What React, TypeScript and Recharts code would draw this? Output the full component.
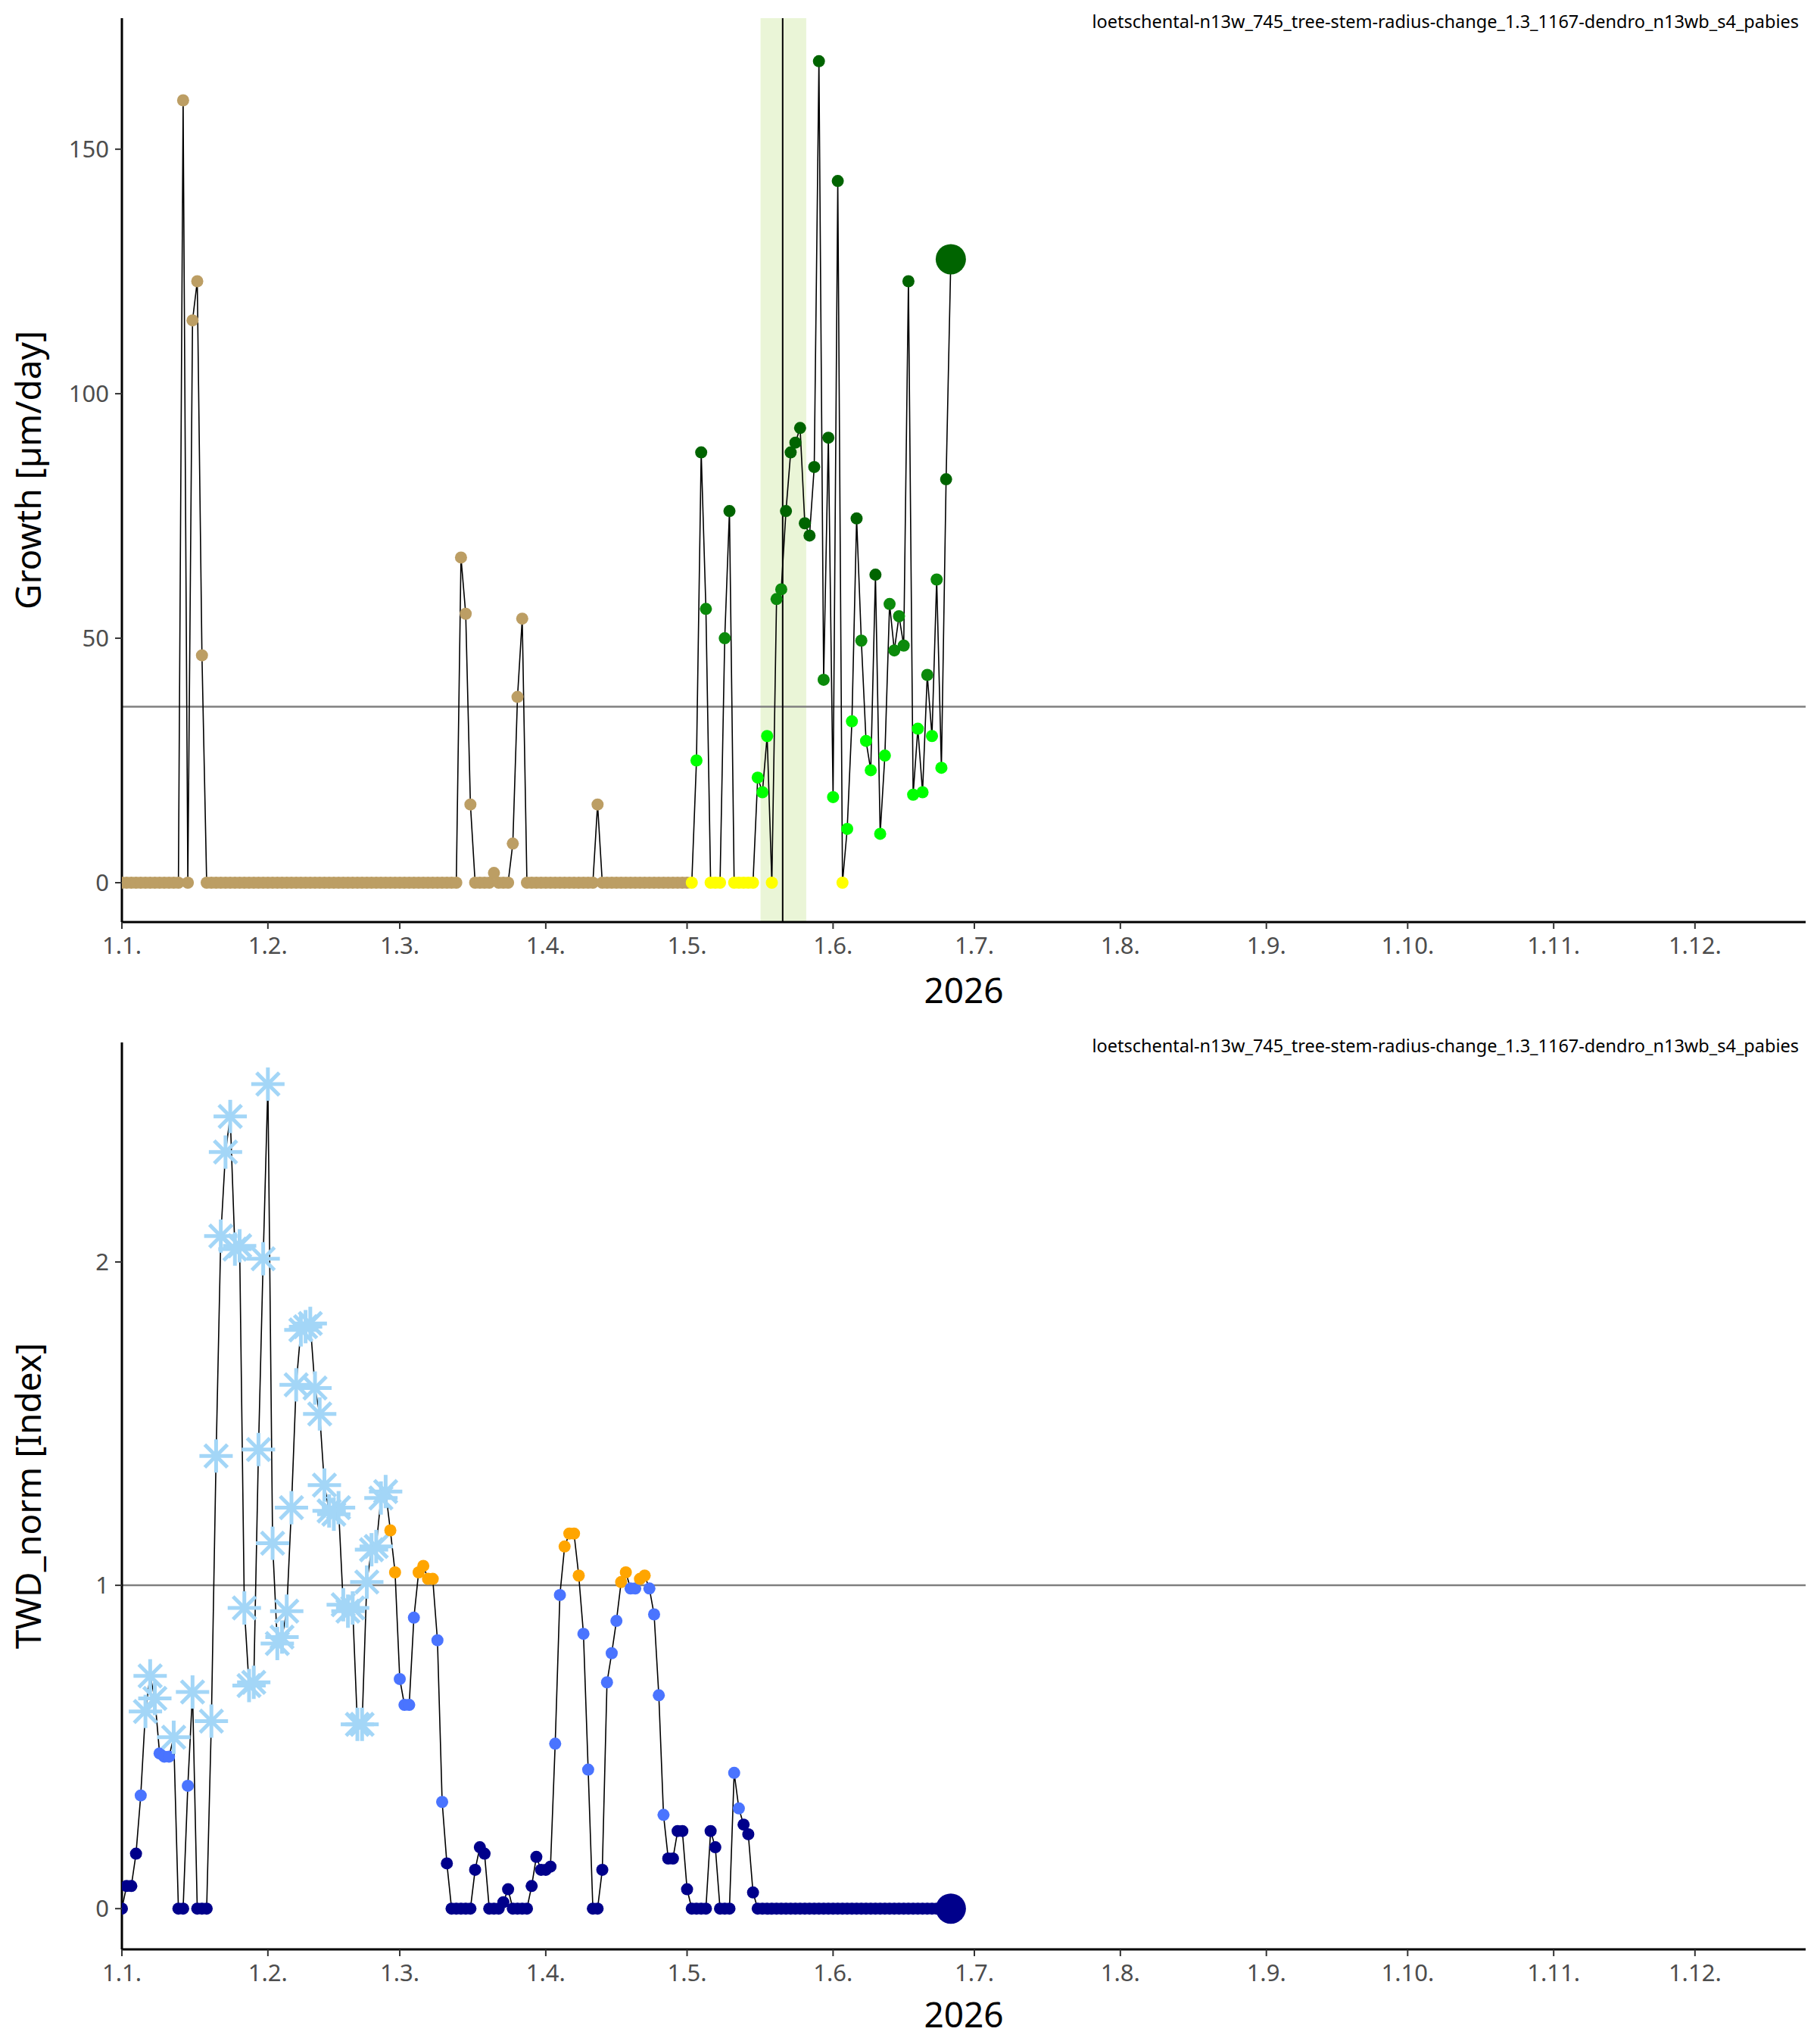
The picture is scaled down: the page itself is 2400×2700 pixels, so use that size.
import React from 'react';
import { ComposedChart, Line, XAxis, YAxis, ReferenceLine, ReferenceArea } from 'recharts';

const monthTicks = [0, 31, 59, 90, 120, 151, 181, 212, 243, 273, 304, 334];
const monthLabels = ['1.1.', '1.2.', '1.3.', '1.4.', '1.5.', '1.6.', '1.7.', '1.8.', '1.9.', '1.10.', '1.11.', '1.12.'];

// growth per day index (day 0 = 1 Jan 2026)
const growthSpikes: [number, number][] = [
  [13, 160], [15, 115], [16, 123], [17, 46.5],
  [72, 66.5], [73, 55], [74, 16], [79, 2], [83, 8], [84, 38], [85, 54], [101, 16],
];
const growthLate = [
  0, 25, 88, 56, 0, 0, 0, 50, 76, 0, 0, 0, 0, 0, 21.5, 18.5, 30, 0, 58, 60,
  76, 88, 90, 93, 73.5, 71, 85, 168, 41.5, 91, 17.5, 143.5, 0, 11, 33, 74.5, 49.5, 29, 23, 63,
  10, 26, 57, 47.5, 54.5, 48.5, 123, 18, 31.5, 18.5, 42.5, 30, 62, 23.5, 82.5, 127.5,
];
const lateStart = 121;

const twdValues = [
  0, 0.07, 0.07, 0.17, 0.35, 0.61, 0.72, 0.65, 0.48, 0.47, 0.47, 0.53, 0, 0, 0.38, 0.67, 0, 0, 0, 0.58,
  1.40, 2.08, 2.34, 2.45, 2.04, 2.05, 0.93, 0.69, 0.70, 1.42, 2.01, 2.55, 1.13, 0.82, 0.84, 0.92, 1.24, 1.62, 1.79, 1.80,
  1.81, 1.61, 1.53, 1.31, 1.23, 1.22, 1.24, 0.94, 0.92, 0.93, 0.57, 0.57, 1.01, 1.11, 1.12, 1.27, 1.29, 1.17, 1.04, 0.71,
  0.63, 0.63, 0.90, 1.04, 1.06, 1.02, 1.02, 0.83, 0.33, 0.14, 0, 0, 0, 0, 0, 0.12, 0.19, 0.17, 0, 0,
  0, 0.02, 0.06, 0, 0, 0, 0, 0.07, 0.16, 0.12, 0.12, 0.13, 0.51, 0.97, 1.12, 1.16, 1.16, 1.03, 0.85, 0.43,
  0, 0, 0.12, 0.70, 0.79, 0.89, 1.01, 1.04, 0.99, 0.99, 1.02, 1.03, 0.99, 0.91, 0.66, 0.29, 0.155, 0.155, 0.24, 0.24,
  0.06, 0, 0, 0, 0, 0.24, 0.19, 0, 0, 0, 0.42, 0.31, 0.26, 0.23, 0.05,
];
const lastDay = 176;
const frostEnd = 57;

const growthData: { day: number; v: number }[] = [];
for (let d = 0; d <= lastDay; d++) {
  let v = 0;
  const s = growthSpikes.find((p) => p[0] === d);
  if (s) v = s[1];
  if (d >= lateStart) v = growthLate[d - lateStart];
  growthData.push({ day: d, v });
}
const twdData: { day: number; v: number }[] = [];
for (let d = 0; d <= lastDay; d++) twdData.push({ day: d, v: d < twdValues.length ? twdValues[d] : 0 });

const SUB = 'loetschental-n13w_745_tree-stem-radius-change_1.3_1167-dendro_n13wb_s4_pabies';
const FONT = 'Noto Sans, Open Sans, sans-serif';

function growthColor(day: number, v: number) {
  if (day < lateStart) return '#BC9E64';
  if (v === 0) return '#FFFF00';
  if (v < 36) return '#00FF00';
  if (v < 62.5) return '#0B8A0B';
  return '#006400';
}
function twdColor(v: number) {
  if (v > 1) return '#FFA500';
  if (v >= 0.28) return '#4A74FF';
  return '#00008B';
}

const GrowthDot = (p: any) => {
  const { cx, cy, payload, index } = p;
  if (cx == null || cy == null) return <g key={index} />;
  const last = payload.day === lastDay;
  return <circle key={index} cx={cx} cy={cy} r={last ? 20 : 8} fill={growthColor(payload.day, payload.v)} />;
};
const TwdDot = (p: any) => {
  const { cx, cy, payload, index } = p;
  if (cx == null || cy == null) return <g key={index} />;
  const last = payload.day === lastDay;
  if (payload.day < frostEnd && payload.v > 0.5) {
    const r = 22, d = 15;
    return (
      <g key={index} stroke="#A3D6F7" strokeWidth={5}>
        <line x1={cx - r} y1={cy} x2={cx + r} y2={cy} />
        <line x1={cx} y1={cy - r} x2={cx} y2={cy + r} />
        <line x1={cx - d} y1={cy - d} x2={cx + d} y2={cy + d} />
        <line x1={cx - d} y1={cy + d} x2={cx + d} y2={cy - d} />
      </g>
    );
  }
  return <circle key={index} cx={cx} cy={cy} r={last ? 20 : 8} fill={twdColor(payload.v)} />;
};

const tickStyle = { fill: '#4D4D4D', fontSize: 31, fontFamily: FONT };
const axisLine = { stroke: '#000', strokeWidth: 3 };

function Panel(props: { data: any[]; domain: [number, number]; yTicks: number[]; yLabel: string; hLine: number; top: boolean }) {
  const { data, domain, yTicks, yLabel, hLine, top } = props;
  return (
    <div style={{ position: 'relative', width: 2400, height: 1350 }}>
      <ComposedChart width={2400} height={1350} data={data} margin={{ top: top ? 24 : 27, right: 15, bottom: 0, left: 0 }}>
        <XAxis
          dataKey="day" type="number" domain={[0, 357.5]} ticks={monthTicks} allowDataOverflow
          tickFormatter={(t: number) => monthLabels[monthTicks.indexOf(t)] ?? ''}
          tick={tickStyle} tickSize={9} tickMargin={11} axisLine={axisLine} tickLine={{ stroke: '#333', strokeWidth: 2 }}
          height={top ? 132 : 125} interval={0}
          label={{ value: '2026', position: 'insideBottom', offset: top ? 25 : 22, fill: '#000', fontSize: 46, fontFamily: FONT }}
        />
        <YAxis
          type="number" domain={domain} ticks={yTicks} allowDataOverflow width={161}
          tick={tickStyle} tickSize={9} tickMargin={8} axisLine={axisLine} tickLine={{ stroke: '#333', strokeWidth: 2 }}
          label={{ value: yLabel, angle: -90, position: 'insideLeft', offset: 38, fill: '#000', fontSize: 46, fontFamily: FONT, style: { textAnchor: 'middle' } }}
        />
        {top && <ReferenceArea x1={135.6} x2={145.3} fill="#D6EBB0" fillOpacity={0.5} stroke="none" />}
        <ReferenceLine y={hLine} stroke="#7F7F7F" strokeWidth={2.5} />
        {top && <ReferenceLine x={140.3} stroke="#000" strokeWidth={2} />}
        <Line dataKey="v" stroke="#000" strokeWidth={1.6} isAnimationActive={false} dot={top ? GrowthDot : TwdDot} activeDot={false} />
      </ComposedChart>
      <div style={{ position: 'absolute', right: 24, top: top ? 12 : 15, fontSize: 23.5, fontFamily: FONT, color: '#000' }}>{SUB}</div>
    </div>
  );
}

export default function App() {
  return (
    <div style={{ position: 'absolute', left: 0, top: 0, width: 2400, height: 2700, background: '#fff' }}>
      <Panel data={growthData} domain={[-8.05, 176.8]} yTicks={[0, 50, 100, 150]} yLabel="Growth [µm/day]" hLine={36} top />
      <Panel data={twdData} domain={[-0.126, 2.679]} yTicks={[0, 1, 2]} yLabel="TWD_norm [Index]" hLine={1} top={false} />
    </div>
  );
}
